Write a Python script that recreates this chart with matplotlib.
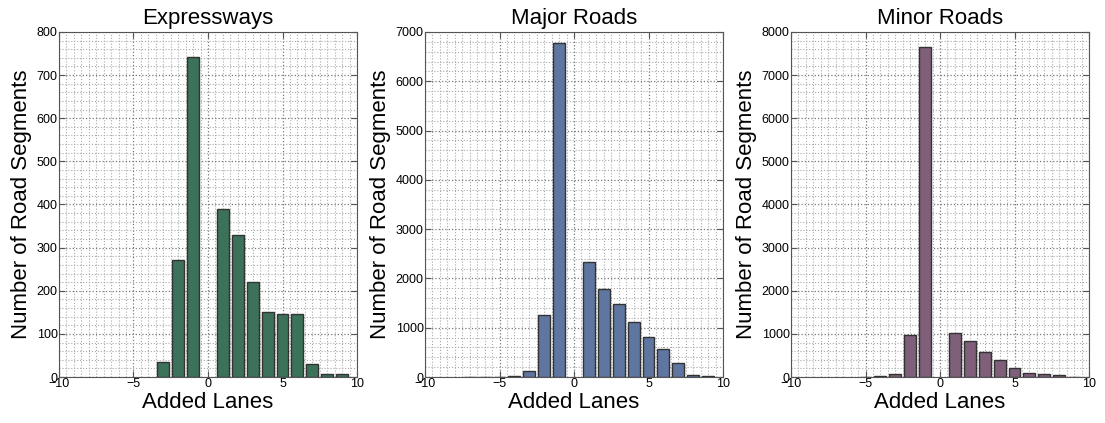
import numpy as np
import matplotlib.pyplot as plt
from matplotlib.ticker import MultipleLocator

plt.rcParams['font.family'] = ['Liberation Sans', 'DejaVu Sans']

titles = ["Expressways", "Major Roads", "Minor Roads"]
colors = ["#3c7259", "#5f77a0", "#7f5f7a"]

exp_lanes = [-3, -2, -1, 1, 2, 3, 4, 5, 6, 7, 8, 9]
exp_counts = [35, 272, 743, 390, 330, 221, 150, 146, 145, 29, 7, 6]

maj_lanes = [-7, -6, -5, -4, -3, -2, -1, 1, 2, 3, 4, 5, 6, 7, 8, 9]
maj_counts = [10, 10, 10, 20, 120, 1250, 6780, 2340, 1790, 1490, 1110, 820, 570, 290, 40, 20]

min_lanes = [-5, -4, -3, -2, -1, 1, 2, 3, 4, 5, 6, 7, 8, 9]
min_counts = [10, 15, 80, 970, 7650, 1030, 840, 570, 390, 200, 100, 75, 45, 10]

ymax = [800, 7000, 8000]
ystep = [100, 1000, 1000]

data = [(exp_lanes, exp_counts), (maj_lanes, maj_counts), (min_lanes, min_counts)]

fig = plt.figure(figsize=(11.05, 4.23), dpi=100)
lefts = [59, 425, 791]
for i in range(3):
    ax = fig.add_axes([lefts[i] / 1105, 46 / 423, 298 / 1105, 345 / 423])
    x, y = data[i]
    ax.bar(x, y, width=0.8, color=colors[i], edgecolor="#333333", linewidth=1, zorder=3)
    ax.set_xlim(-10, 10)
    ax.set_ylim(0, ymax[i])
    ax.xaxis.set_major_locator(MultipleLocator(5))
    ax.xaxis.set_minor_locator(MultipleLocator(0.5))
    ax.yaxis.set_major_locator(MultipleLocator(ystep[i]))
    ax.yaxis.set_minor_locator(MultipleLocator(ystep[i] / 5))
    ax.grid(which="major", linestyle=":", color="#777777", linewidth=0.9, zorder=0)
    ax.grid(which="minor", linestyle=":", color="#aaaaaa", linewidth=0.8, zorder=0)
    ax.tick_params(which="both", direction="in", top=True, right=True, labelsize=9, pad=1)
    ax.tick_params(which="major", length=4, color="#555555")
    ax.tick_params(which="minor", length=0)
    for s in ax.spines.values():
        s.set_color("#555555")
    ax.set_title(titles[i], fontsize=16, pad=6)
    ax.set_xlabel("Added Lanes", fontsize=16, labelpad=1)
    ax.set_ylabel("Number of Road Segments", fontsize=16, labelpad=3)

fig.savefig("out.png", dpi=100)
